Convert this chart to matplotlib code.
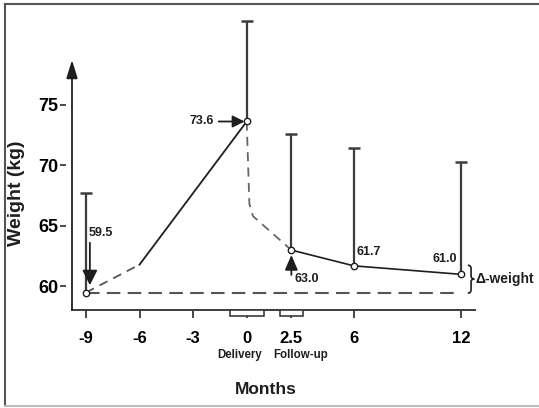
import matplotlib
matplotlib.use("Agg")
import matplotlib.pyplot as plt
import matplotlib.transforms as mtransforms
from matplotlib.patches import Rectangle, PathPatch
from matplotlib.path import Path
from matplotlib.lines import Line2D
import numpy as np

plt.rcParams["font.family"] = ["Liberation Sans", "DejaVu Sans"]

# Mean body weight (kg) at each visit, with the upper SD whisker
months = [-9, 0, 2.5, 6, 12]
weight_mean = [59.5, 73.6, 63.0, 61.7, 61.0]
weight_sd = [8.2, 8.3, 9.6, 9.7, 9.3]
value_labels = ["59.5", "73.6", "63.0", "61.7", "61.0"]

# Weight course during pregnancy (dashed before -6 months, solid after)
pregnancy_months = [-9, -6, 0]
pregnancy_weight = [59.5, 61.8, 73.6]

# Drop right after delivery down to the first follow-up visit
postpartum_months = [0, 0.15, 0.35, 2.5]
postpartum_weight = [73.6, 66.8, 65.8, 63.0]

x_ticks = [-9, -6, -3, 0, 2.5, 6, 12]
x_tick_labels = ["-9", "-6", "-3", "0", "2.5", "6", "12"]
y_ticks = [60, 65, 70, 75]

W, H = 539, 408
fig = plt.figure(figsize=(W / 100, H / 100), dpi=100)
ax = fig.add_axes([72 / W, 1 - 310 / H, (475 - 72) / W, 250 / H])
ax.set_xlim(-9.78, 12.78)
ax.set_ylim(58.06, 78.67)

dark = "#1e1e1e"
mid = "#3c3c3c"
dash_grey = "#555555"

# axes styling
for s in ("top", "right"):
    ax.spines[s].set_visible(False)
ax.spines["left"].set_position(("outward", 4))
ax.spines["left"].set_visible(False)
ax.spines["bottom"].set_linewidth(1.4)
ax.spines["bottom"].set_color(mid)

ax.set_xticks(x_ticks)
ax.set_xticklabels(x_tick_labels, fontsize=12, fontweight="bold")
ax.set_yticks(y_ticks)
ax.set_yticklabels([str(v) for v in y_ticks], fontsize=13, fontweight="bold")
ax.tick_params(axis="x", direction="out", length=6, width=1.3, color=mid, pad=9)
ax.tick_params(axis="y", direction="out", length=4, width=1.3, color=mid, pad=2)

# vertical axis drawn as an arrow
ax.annotate("", xy=(-9.78, 78.67), xytext=(-9.78, 58.06),
            xycoords="data", textcoords="data", annotation_clip=False,
            arrowprops=dict(arrowstyle="-|>,head_length=0.55,head_width=0.17",
                            mutation_scale=20, lw=1.3, color=dark,
                            shrinkA=0, shrinkB=0))

# delivery / follow-up brackets on the time axis
xa = mtransforms.blended_transform_factory(ax.transData, ax.transAxes)
for cx, half_l, half_r in [(0, 0.95, 0.95), (2.5, 0.62, 0.67)]:
    ax.add_patch(Rectangle((cx - half_l, -0.022), half_l + half_r, 0.022,
                           transform=xa, facecolor="white", edgecolor=mid,
                           lw=1.2, clip_on=False, zorder=4))

# baseline reference (pre-pregnancy weight)
base, = ax.plot([months[0], months[-1]], [weight_mean[0]] * 2, color=dash_grey,
                lw=1.5, zorder=2)
base.set_dashes((6.5, 3.5))

# pregnancy course
seg1, = ax.plot(pregnancy_months[:2], pregnancy_weight[:2], color=dash_grey,
                lw=1.3, zorder=2)
seg1.set_dashes((5, 3.5))
ax.plot(pregnancy_months[1:], pregnancy_weight[1:], color=dark, lw=1.3, zorder=2)

# postpartum drop
pp, = ax.plot(postpartum_months, postpartum_weight, color="#666666", lw=1.3,
              zorder=2)
pp.set_dashes((5, 3.5))

# follow-up course
ax.plot(months[2:], weight_mean[2:], color=dark, lw=1.2, zorder=2)

# SD whiskers
tops = np.array(weight_mean) + np.array(weight_sd)
ax.vlines(months, weight_mean, tops, color=mid, lw=1.6, zorder=2, clip_on=False)
ax.plot(months, tops, ls="none", marker="_", ms=9, mew=1.8, color=mid,
        clip_on=False, zorder=2)

# observed means
ax.plot(months, weight_mean, ls="none", marker="o", ms=4.6, mfc="white",
        mec=dark, mew=1.0, zorder=5)

# value callouts
txt = dict(fontsize=9, fontweight="bold", color=dark)
ax.text(months[1] - 1.85, weight_mean[1], value_labels[1], ha="right",
        va="center", **txt)
ax.annotate("", xy=(months[1] - 0.12, weight_mean[1]),
            xytext=(months[1] - 1.57, weight_mean[1]),
            arrowprops=dict(arrowstyle="-|>,head_length=0.6,head_width=0.3",
                            mutation_scale=12, lw=1.3, color=dark,
                            shrinkA=0, shrinkB=0))

ax.text(months[0] + 0.84, 64.41, value_labels[0], ha="center", va="center",
        **txt)
ax.annotate("", xy=(months[0] + 0.22, 60.1), xytext=(months[0] + 0.22, 63.6),
            arrowprops=dict(arrowstyle="-|>,head_length=0.7,head_width=0.35",
                            mutation_scale=13, lw=1.3, color=dark,
                            shrinkA=0, shrinkB=0))

ax.text(months[2] + 0.2, 60.62, value_labels[2], ha="left", va="center", **txt)
ax.annotate("", xy=(months[2], 62.6), xytext=(months[2], 60.95),
            arrowprops=dict(arrowstyle="-|>,head_length=0.7,head_width=0.3",
                            mutation_scale=13, lw=1.3, color=dark,
                            shrinkA=0, shrinkB=0))

ax.text(months[3] + 0.17, 62.85, value_labels[3], ha="left", va="center", **txt)
ax.text(months[4] - 0.22, 62.27, value_labels[4], ha="right", va="center", **txt)

# brace marking the weight retained at 12 months
x0, xt = 12.38, 12.74
xm = (x0 + xt) / 2
yb, yt, ymid = 59.45, 61.75, 60.62
verts = [(x0, yt), (xm, yt), (xm, yt - 0.3),
         (xm, ymid + 0.25),
         (xm, ymid), (xt, ymid),
         (xm, ymid), (xm, ymid - 0.25),
         (xm, yb + 0.3),
         (xm, yb), (x0, yb)]
codes = [Path.MOVETO, Path.CURVE3, Path.CURVE3, Path.LINETO,
         Path.CURVE3, Path.CURVE3, Path.CURVE3, Path.CURVE3,
         Path.LINETO, Path.CURVE3, Path.CURVE3]
ax.add_patch(PathPatch(Path(verts, codes), facecolor="none", edgecolor=dark,
                       lw=1.2, clip_on=False))
ax.text(12.8, ymid, "Δ-weight", ha="left", va="center", fontsize=10,
        fontweight="bold", color=dark)

# axis titles and event labels
fig.text(239.5 / W, 1 - 355 / H, "Delivery", ha="center", va="center",
         fontsize=8.3, fontweight="bold", color=dark)
fig.text(301 / W, 1 - 355 / H, "Follow-up", ha="center", va="center",
         fontsize=8.3, fontweight="bold", color=dark)
fig.text(266 / W, 1 - 390 / H, "Months", ha="center", va="center",
         fontsize=12.5, fontweight="bold", color=dark)
fig.text(17 / W, 1 - 193 / H, "Weight (kg)", ha="center", va="center",
         rotation=90, fontsize=14, fontweight="bold", color=dark)

# picture frame
fig.add_artist(Line2D([5 / W, 5 / W], [1 - 406 / H, 1 - 4 / H],
                      transform=fig.transFigure, color="#555555", lw=1.5))
fig.add_artist(Line2D([5 / W, 1], [1 - 4 / H, 1 - 4 / H],
                      transform=fig.transFigure, color="#555555", lw=1.5))
fig.add_artist(Line2D([5 / W, 1], [1 - 406 / H, 1 - 406 / H],
                      transform=fig.transFigure, color="#bbbbbb", lw=1.5))

fig.savefig("out.png", dpi=100)
